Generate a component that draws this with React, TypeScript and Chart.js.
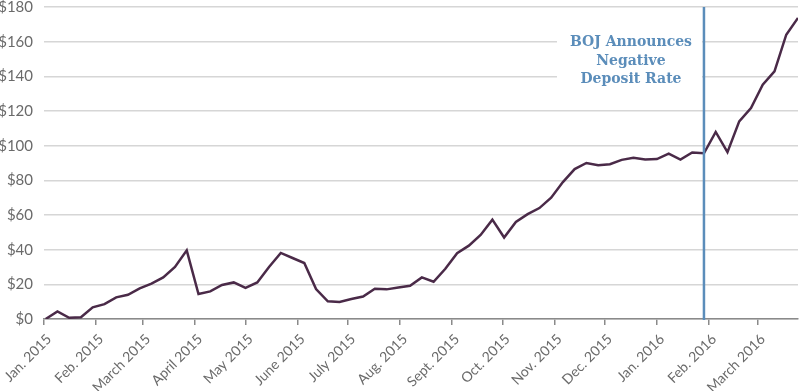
import React, { useEffect, useRef } from "react";
import { Chart, registerables } from "chart.js";

Chart.register(...registerables);

// Weekly (Friday) values, starting 2015-01-02
const seriesStart = "2015-01-02";
const weeklyValues: number[] = [
  0, 4.4, 0.7, 1, 6.7, 8.6, 12.5, 14, 17.7, 20.4, 24, 30, 39.6,
  14.4, 15.9, 19.6, 21.1, 17.9, 21.1, 30, 38.1, 35.2, 32.3, 17.3, 10.2,
  9.8, 11.5, 13, 17.5, 17.1, 18.2, 19.2, 24, 21.5, 29, 38, 42.3, 48.5,
  57.3, 47, 56, 60.5, 64, 70, 79, 86.5, 90, 88.7, 89.3, 91.8, 93, 92,
  92.3, 95.4, 92, 96.1, 95.6, 107.9, 96.3, 114, 121.7, 135.2, 142.9, 164, 173.7,
];

const monthLabels: string[] = [
  "Jan. 2015", "Feb. 2015", "March 2015", "April 2015", "May 2015", "June 2015",
  "July 2015", "Aug. 2015", "Sept. 2015", "Oct. 2015", "Nov. 2015", "Dec. 2015",
  "Jan. 2016", "Feb. 2016", "March 2016",
];
const monthDates: string[] = [
  "2015-01-01", "2015-02-01", "2015-03-01", "2015-04-01", "2015-05-01", "2015-06-01",
  "2015-07-01", "2015-08-01", "2015-09-01", "2015-10-01", "2015-11-01", "2015-12-01",
  "2016-01-01", "2016-02-01", "2016-03-01",
];

const yTicks: number[] = [0, 20, 40, 60, 80, 100, 120, 140, 160, 180];

const eventDate = "2016-01-29";
const eventText: string[] = ["BOJ Announces", "Negative", "Deposit Rate"];

const origin = Date.UTC(2015, 0, 1);
const toDay = (s: string) => {
  const [y, m, d] = s.split("-").map(Number);
  return (Date.UTC(y, m - 1, d) - origin) / 86400000;
};

const LINE_COLOR = "#4a2a48";
const BLUE = "#5b8dba";

export default function App() {
  const ref = useRef<HTMLCanvasElement | null>(null);

  useEffect(() => {
    document.body.style.margin = "0";
    const startDay = toDay(seriesStart);
    const points = weeklyValues.map((v, i) => ({ x: startDay + 7 * i, y: v }));
    const tickDays = monthDates.map(toDay);
    const eventDay = toDay(eventDate);
    const lastDay = points[points.length - 1].x;

    const annotation = {
      id: "bojAnnotation",
      beforeDatasetsDraw(chart: any) {
        const { ctx, scales } = chart;
        const x = scales.x.getPixelForValue(eventDay);
        const yTop = scales.y.getPixelForValue(160);
        ctx.save();
        ctx.fillStyle = "#ffffff";
        ctx.fillRect(x - 147, yTop - 12, 145, 60);
        ctx.fillStyle = BLUE;
        ctx.font = "bold 14px 'DejaVu Serif'";
        ctx.textAlign = "center";
        ctx.textBaseline = "middle";
        const cx = x - 73;
        eventText.forEach((t, i) => ctx.fillText(t, cx, yTop + 0.5 + i * 18.8));
        ctx.restore();
      },
      afterDatasetsDraw(chart: any) {
        const { ctx, scales, chartArea } = chart;
        const x = scales.x.getPixelForValue(eventDay);
        ctx.save();
        ctx.strokeStyle = BLUE;
        ctx.lineWidth = 2.5;
        ctx.beginPath();
        ctx.moveTo(x, chartArea.top);
        ctx.lineTo(x, chartArea.bottom + 1);
        ctx.stroke();
        ctx.restore();
      },
    };

    const chart = new Chart(ref.current!, {
      type: "line",
      data: {
        datasets: [
          {
            data: points,
            borderColor: LINE_COLOR,
            borderWidth: 2.5,
            pointRadius: 0,
            tension: 0,
            fill: false,
          },
        ],
      },
      options: {
        responsive: false,
        animation: false,
        layout: { padding: { top: 7, right: 2, left: 0, bottom: 0 } },
        plugins: { legend: { display: false }, tooltip: { enabled: false } },
        scales: {
          x: {
            type: "linear",
            min: 0,
            max: lastDay,
            afterBuildTicks: (scale: any) => {
              scale.ticks = tickDays.map((v) => ({ value: v }));
            },
            afterFit: (scale: any) => {
              scale.height = 72;
              scale.paddingTop = 0;
              scale.paddingRight = 0;
              scale.paddingLeft = 0;
            },
            grid: {
              drawOnChartArea: false,
              drawTicks: true,
              tickLength: 6,
              color: "#8a8a8a",
              lineWidth: 1.5,
            },
            border: { color: "#8a8a8a", width: 1.5 },
            ticks: {
              autoSkip: false,
              minRotation: 45,
              maxRotation: 45,
              padding: 6,
              labelOffset: 5,
              color: "#6a6a6a",
              font: { family: "Lato", size: 14 },
              callback: (_v: any, i: number) => monthLabels[i],
            },
          },
          y: {
            min: 0,
            max: 180,
            afterBuildTicks: (scale: any) => {
              scale.ticks = yTicks.map((v) => ({ value: v }));
            },
            afterFit: (scale: any) => {
              scale.width = 44;
              scale.paddingTop = 0;
              scale.paddingBottom = 0;
            },
            grid: { color: "#d6d6d6", lineWidth: 1.5, drawTicks: false },
            border: { display: false },
            ticks: {
              padding: 11,
              color: "#6a6a6a",
              font: { family: "Lato", size: 15 },
              callback: (v: any) => "$" + v,
            },
          },
        },
      },
      plugins: [annotation],
    });
    return () => chart.destroy();
  }, []);

  return (
    <div style={{ width: 800, height: 391 }}>
      <canvas ref={ref} width={800} height={391} />
    </div>
  );
}
